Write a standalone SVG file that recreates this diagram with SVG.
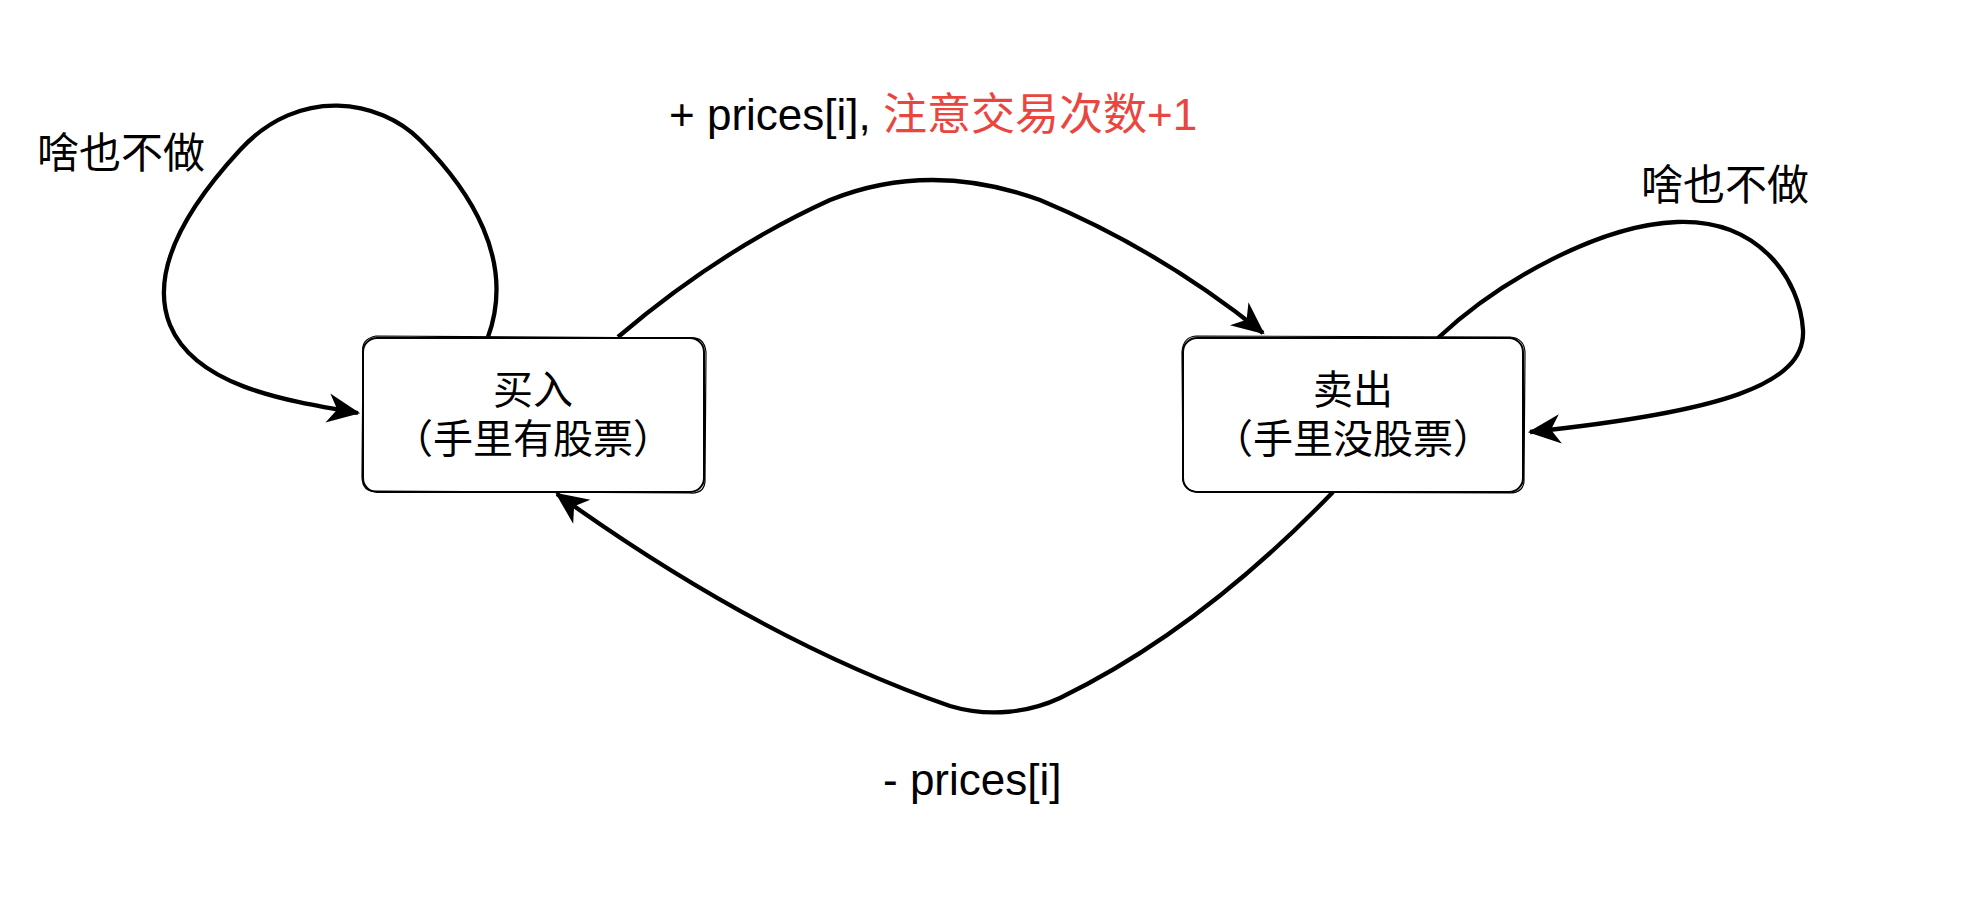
<svg xmlns="http://www.w3.org/2000/svg" width="1986" height="898" viewBox="0 0 1986 898">
  <style>
    .box { fill: #ffffff; stroke: #000000; stroke-width: 2; }
    .sk { fill: none; stroke: #000000; stroke-width: 1.2; }
    .edge { fill: none; stroke: #000000; stroke-width: 4.3; stroke-linecap: butt; }
    .node-text { font-family: "Noto Sans CJK SC", "Liberation Sans", sans-serif; font-size: 40px; fill: #000000; text-anchor: middle; }
    .cjk-label { font-family: "Noto Sans CJK SC", "Liberation Sans", sans-serif; font-size: 42px; fill: #000000; }
    .label { font-family: "Liberation Sans", "Noto Sans CJK SC", sans-serif; font-size: 44px; fill: #000000; }
    .red { fill: #E9463F; }
  </style>
  <defs>
    <marker id="arr" markerUnits="userSpaceOnUse" markerWidth="40" markerHeight="40" viewBox="-34 -17 38 34" refX="0" refY="0" orient="auto">
      <path d="M2,0 L-29,-14 L-20,0 L-29,14 Z" fill="#000000"/>
    </marker>
  </defs>
  <rect x="0" y="0" width="1986" height="898" fill="#ffffff"/>

  <g id="connectors">
    <path class="edge" d="M488,337 C516,260 470,190 420,140 C380,100 300,85 240,150 C180,215 150,275 170,325 C195,385 280,400 358,413" marker-end="url(#arr)"/>
    <path class="edge" d="M618,337 Q720,250 830,200 Q930,160 1040,200 Q1160,250 1263,333" marker-end="url(#arr)"/>
    <path class="edge" d="M1438,338 C1500,280 1600,225 1677,222 C1760,219 1800,280 1803,330 C1806,385 1720,412 1530,432" marker-end="url(#arr)"/>
    <path class="edge" d="M1333,492 Q1200,630 1060,698 C1030,712 990,718 950,706 Q760,640 557,494" marker-end="url(#arr)"/>
  </g>

  <g id="node-buy">
    <rect class="box" x="363" y="338" width="341" height="154" rx="14" ry="14"/>
    <path class="sk" d="M376,336 L690,338 Q704,336 706,352 L705,478 Q706,494 690,493 L377,491 Q362,493 362,476 L363,352 Q361,339 376,336 Z"/>
    <text class="node-text" x="533" y="404">买入<tspan x="533" dy="49">（手里有股票）</tspan></text>
  </g>

  <g id="node-sell">
    <rect class="box" x="1183" y="338" width="340" height="154" rx="14" ry="14"/>
    <path class="sk" d="M1196,336 L1510,337 Q1524,338 1525,352 L1524,478 Q1525,493 1509,493 L1197,492 Q1182,490 1183,476 L1182,352 Q1183,337 1196,336 Z"/>
    <text class="node-text" x="1353" y="404">卖出<tspan x="1353" dy="49">（手里没股票）</tspan></text>
  </g>

  <g id="labels">
    <text class="cjk-label" x="37" y="168">啥也不做</text>
    <text class="cjk-label" x="1641" y="200">啥也不做</text>
    <text class="label" x="669" y="130">+ prices[i], <tspan class="red">注意交易次数+1</tspan></text>
    <text class="label" x="883" y="795">- prices[i]</text>
  </g>
</svg>
